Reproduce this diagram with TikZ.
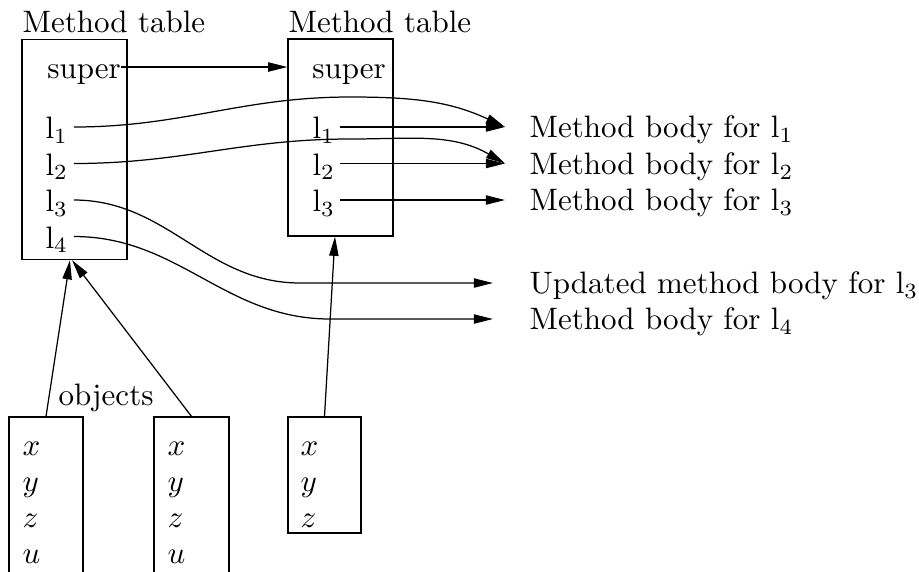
\documentclass[tikz,border=0pt]{standalone}
\usetikzlibrary{arrows.meta,calc}
\newcommand\pxunit{0.3225pt}
\begin{document}
\begin{tikzpicture}[x=\pxunit,y=-\pxunit, line width=0.4pt,
  box/.style={draw, rectangle, inner sep=0pt},
  lab/.style={inner sep=0pt, anchor=base west},
  rowtxt/.style={inner sep=0pt, anchor=west, text height=7.6pt, text depth=0pt},
  bodytxt/.style={inner sep=0pt, anchor=west, text height=7pt, text depth=0pt},
  arr/.style={-{Triangle[length=6.2pt,width=3pt]}}]
\clip (0,0) rectangle (919,571);
% method tables
\node[box, minimum width=105*\pxunit, minimum height=220*\pxunit] (lt) at (74.5,149.5) {};
\node[box, minimum width=105*\pxunit, minimum height=197*\pxunit] (rt) at (340.5,137.5) {};
\node[lab] (mt1) at (22,32) {Method table};
\node[lab] (mt2) at (288,32) {Method table};
% left table rows
\node[rowtxt] (sup1) at (46.7,67) {super};
\node[rowtxt] (l1) at (45,127) {l$_1$};
\node[rowtxt] (l2) at (45,163.5) {l$_2$};
\node[rowtxt] (l3) at (45,200) {l$_3$};
\node[rowtxt] (l4) at (45,236.5) {l$_4$};
% right table rows
\node[rowtxt] (sup2) at (311.7,67) {super};
\node[rowtxt] (r1) at (312,127) {l$_1$};
\node[rowtxt] (r2) at (312,163.5) {l$_2$};
\node[rowtxt] (r3) at (312,200) {l$_3$};
% method bodies
\node[bodytxt] (b1) at (529,127) {Method body for l$_1$};
\node[bodytxt] (b2) at (529,163.5) {Method body for l$_2$};
\node[bodytxt] (b3) at (529,200) {Method body for l$_3$};
\node[bodytxt] (ub) at (529,283) {Updated method body for l$_3$};
\node[bodytxt] (b4) at (529,319) {Method body for l$_4$};
% objects
\node[box, minimum width=74*\pxunit, minimum height=183*\pxunit] (ob1) at (46,508.5) {};
\node[box, minimum width=75*\pxunit, minimum height=183*\pxunit] (ob2) at (191.5,508.5) {};
\node[box, minimum width=73*\pxunit, minimum height=116*\pxunit] (ob3) at (324.5,475) {};
\node[lab] (objs) at (58,405) {objects};
\node[lab] (o1x) at (22,455) {$x$};
\node[lab] (o1y) at (22,491) {$y$};
\node[lab] (o1z) at (22,527) {$z$};
\node[lab] (o1u) at (22,563) {$u$};
\node[lab] (o2x) at (167,455) {$x$};
\node[lab] (o2y) at (167,491) {$y$};
\node[lab] (o2z) at (167,527) {$z$};
\node[lab] (o2u) at (167,563) {$u$};
\node[lab] (o3x) at (300,455) {$x$};
\node[lab] (o3y) at (300,491) {$y$};
\node[lab] (o3z) at (300,527) {$z$};
% via points
\coordinate (k1) at (350,97);
\coordinate (k2) at (350,139);
\coordinate (k3) at (300,283);
\coordinate (k4) at (330,319);
% connectors
\draw[arr] (sup1.east) -- (rt.west |- sup1.east);
\draw[arr] ([xshift=4*\pxunit]r1.east) -- ([xshift=-24*\pxunit]b1.west);
\draw[arr] ([xshift=4*\pxunit]r2.east) -- ([xshift=-24*\pxunit]b2.west);
\draw[arr] ([xshift=4*\pxunit]r3.east) -- ([xshift=-24*\pxunit]b3.west);
\draw[arr] ([xshift=5*\pxunit]l1.east) to[out=0,in=180] (k1) to[out=0,in=155] ([xshift=-24*\pxunit]b1.west);
\draw[arr] ([xshift=5*\pxunit]l2.east) to[out=0,in=180] (k2) to[out=0,in=150] ([xshift=-24*\pxunit]b2.west);
\draw[arr] ([xshift=5*\pxunit]l3.east) to[out=0,in=180] (k3) -- ([xshift=-36*\pxunit]ub.west);
\draw[arr] ([xshift=5*\pxunit]l4.east) to[out=0,in=180] (k4) -- ([xshift=-36*\pxunit]b4.west);
\draw[arr] (ob1.north) -- ([xshift=-4.5*\pxunit]lt.south);
\draw[arr] (ob2.north) -- ([xshift=-2.5*\pxunit]lt.south);
\draw[arr] (ob3.north) -- ([xshift=-5.5*\pxunit]rt.south);
\end{tikzpicture}
\end{document}
